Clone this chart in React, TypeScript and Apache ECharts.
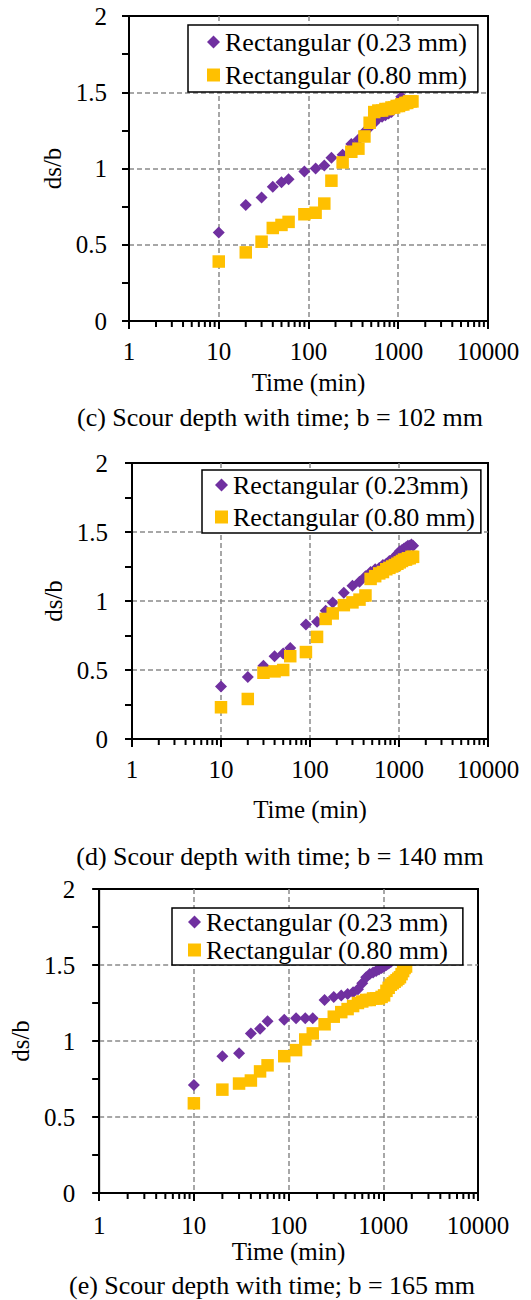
import React, { useEffect, useRef } from "react";
import * as echarts from "echarts";

// ---------- DATA ----------
const TIME = [10, 20, 30, 40, 50, 60, 90, 120, 150, 180, 240, 300, 360, 420, 480, 540, 600, 660, 720, 780, 840, 900, 960, 1020, 1080, 1140, 1200, 1260, 1320, 1380, 1440];
const TIME_E_COARSE = [10, 20, 30, 40, 50, 60, 90, 120, 150, 180, 240, 300, 360, 420, 480, 540, 600, 660, 720, 780, 840, 900, 960, 1020, 1080, 1140, 1200, 1260, 1320, 1380, 1440, 1500, 1560, 1620, 1680, 1740];

// (c) b = 102 mm
const C_FINE = [0.58, 0.76, 0.81, 0.88, 0.91, 0.93, 0.98, 1.0, 1.02, 1.07, 1.09, 1.16, 1.19, 1.24, 1.27, 1.3, 1.33, 1.34, 1.35, 1.36, 1.37, 1.39, 1.41, 1.44, 1.47];
const C_COARSE = [0.39, 0.45, 0.52, 0.61, 0.63, 0.65, 0.7, 0.71, 0.77, 0.92, 1.04, 1.11, 1.13, 1.21, 1.3, 1.37, 1.38, 1.38, 1.39, 1.39, 1.4, 1.4, 1.41, 1.41, 1.42, 1.42, 1.43, 1.43, 1.44, 1.44, 1.44];

// (d) b = 140 mm
const D_FINE = [0.38, 0.45, 0.53, 0.6, 0.62, 0.66, 0.83, 0.85, 0.93, 0.99, 1.06, 1.11, 1.14, 1.18, 1.21, 1.23, 1.24, 1.26, 1.27, 1.29, 1.3, 1.32, 1.34, 1.36, 1.37, 1.38, 1.39, 1.4, 1.4, 1.41, 1.4];
const D_COARSE = [0.23, 0.29, 0.48, 0.49, 0.5, 0.6, 0.63, 0.74, 0.87, 0.91, 0.97, 0.99, 1.01, 1.04, 1.16, 1.18, 1.2, 1.21, 1.23, 1.24, 1.25, 1.26, 1.27, 1.28, 1.29, 1.3, 1.3, 1.31, 1.31, 1.32, 1.32];

// (e) b = 165 mm
const E_FINE = [0.71, 0.9, 0.92, 1.05, 1.08, 1.13, 1.14, 1.15, 1.15, 1.15, 1.27, 1.29, 1.3, 1.31, 1.32, 1.34, 1.38, 1.42, 1.44, 1.45, 1.46, 1.47, 1.48, 1.49, 1.5, 1.51, 1.52];
const E_COARSE = [0.59, 0.68, 0.72, 0.74, 0.8, 0.84, 0.9, 0.94, 1.01, 1.05, 1.11, 1.16, 1.19, 1.21, 1.23, 1.25, 1.26, 1.27, 1.27, 1.28, 1.28, 1.28, 1.29, 1.3, 1.33, 1.35, 1.37, 1.38, 1.39, 1.4, 1.41, 1.42, 1.44, 1.46, 1.48, 1.49];

const LEGEND_NAMES = [
  ["Rectangular (0.23 mm)", "Rectangular (0.80 mm)"],
  ["Rectangular (0.23mm)", "Rectangular (0.80 mm)"],
  ["Rectangular (0.23 mm)", "Rectangular (0.80 mm)"],
];
const CAPTIONS = [
  "(c) Scour depth with time; b = 102 mm",
  "(d) Scour depth with time; b = 140 mm",
  "(e) Scour depth with time; b = 165 mm",
];
const X_MINOR_TICKS = [2, 3, 4, 5, 6, 7, 8, 9, 20, 30, 40, 50, 60, 70, 80, 90, 200, 300, 400, 500, 600, 700, 800, 900, 2000, 3000, 4000, 5000, 6000, 7000, 8000, 9000];
const X_NAME = "Time (min)";
const Y_NAME = "ds/b";

const SERIES_DATA = [
  [[TIME, C_FINE], [TIME, C_COARSE]],
  [[TIME, D_FINE], [TIME, D_COARSE]],
  [[TIME, E_FINE], [TIME_E_COARSE, E_COARSE]],
];

// ---------- STYLE / LAYOUT ----------
const FONT = "Liberation Serif";
const PURPLE = "#7030A0";
const YELLOW = "#FFC000";
const TICK = "#000";
const GRID_LINE = { color: "#8a8a8a", type: [5, 3], width: 1.5 };

const LAYOUT = [
  { grid: { left: 129, top: 16, width: 359, height: 305 }, legend: { left: 188, top: 25, padding: [4, 11, 4, 19], itemGap: 7 }, xMargin: 18, xNameGap: 49, yMargin: 22, yNameGap: 34, cap: [280, 417] },
  { grid: { left: 132, top: 463, width: 356, height: 276 }, legend: { left: 202, top: 470, padding: [2, 6, 3, 13], itemGap: 6 }, xMargin: 18, xNameGap: 58, yMargin: 24, yNameGap: 49, cap: [280, 856] },
  { grid: { left: 87, top: 889, width: 391, height: 304 }, legend: { left: 172, top: 908, padding: [1, 15, 2, 16], itemGap: 2 }, xMargin: 20, xNameGap: 45, yMargin: 24, yNameGap: 50, cap: [272, 1285] },
];

function pairs(xs: number[], ys: number[]) {
  return ys.map((y, i) => [xs[i], y]);
}

function buildOption() {
  const grid: any[] = [];
  const xAxis: any[] = [];
  const yAxis: any[] = [];
  const legend: any[] = [];
  const series: any[] = [];
  const graphic: any[] = [];
  const axisText = { fontFamily: FONT, fontSize: 25, color: "#000" };

  LAYOUT.forEach((L, i) => {
    grid.push({ ...L.grid, show: true, borderColor: "#000", borderWidth: 2, backgroundColor: "transparent", containLabel: false });
    xAxis.push({
      type: "log",
      logBase: 10,
      min: 1,
      max: 10000,
      gridIndex: i,
      name: X_NAME,
      nameLocation: "middle",
      nameGap: L.xNameGap,
      nameTextStyle: axisText,
      axisLine: { show: true, onZero: false, lineStyle: { color: "#000", width: 2 } },
      axisTick: { show: true, length: 8, lineStyle: { color: TICK, width: 2 } },
      axisLabel: { ...axisText, margin: L.xMargin, formatter: (v: number) => String(Math.round(v)) },
      splitLine: { show: true, showMinLine: false, showMaxLine: false, lineStyle: GRID_LINE },
      minorTick: { show: false },
    });
    yAxis.push({
      type: "value",
      min: 0,
      max: 2,
      interval: 0.5,
      gridIndex: i,
      name: Y_NAME,
      nameLocation: "middle",
      nameRotate: 90,
      nameGap: L.yNameGap,
      nameTextStyle: axisText,
      axisLine: { show: true, onZero: false, lineStyle: { color: "#000", width: 2 } },
      axisTick: { show: true, length: 7, lineStyle: { color: TICK, width: 2 } },
      minorTick: { show: true, splitNumber: 2, length: 7, lineStyle: { color: TICK, width: 2 } },
      axisLabel: { ...axisText, margin: L.yMargin },
      splitLine: { show: true, showMinLine: false, showMaxLine: false, lineStyle: GRID_LINE },
    });
    const [n0, n1] = LEGEND_NAMES[i];
    legend.push({
      orient: "vertical",
      left: L.legend.left,
      top: L.legend.top,
      padding: L.legend.padding,
      itemGap: L.legend.itemGap,
      itemWidth: 13,
      itemHeight: 13,
      backgroundColor: "#fff",
      borderColor: "#000",
      borderWidth: 1.5,
      borderRadius: 0,
      selectedMode: false,
      textStyle: { fontFamily: FONT, fontSize: 26, color: "#000", lineHeight: 26 },
      data: [
        { name: n0, icon: "diamond", itemStyle: { color: PURPLE, opacity: 1 } },
        { name: n1, icon: "rect", itemStyle: { color: YELLOW, opacity: 1 } },
      ],
    });
    const [[tx0, v0], [tx1, v1]] = SERIES_DATA[i];
    series.push({
      type: "scatter",
      name: n0,
      xAxisIndex: i,
      yAxisIndex: i,
      symbol: "diamond",
      symbolSize: 12,
      itemStyle: { color: PURPLE, opacity: 1 },
      data: pairs(tx0, v0),
      z: 2,
    });
    series.push({
      type: "scatter",
      name: n1,
      xAxisIndex: i,
      yAxisIndex: i,
      symbol: "rect",
      symbolSize: 12.5,
      itemStyle: { color: YELLOW, opacity: 1 },
      data: pairs(tx1, v1),
      z: 2,
    });
    series.push({
      type: "custom",
      xAxisIndex: i,
      yAxisIndex: i,
      silent: true,
      clip: false,
      z: 3,
      data: X_MINOR_TICKS.map((v) => [v, 0]),
      encode: { x: 0, y: 1 },
      renderItem: (params: any, api: any) => {
        const p = api.coord([api.value(0), 0]);
        return {
          type: "line",
          shape: { x1: p[0], y1: p[1], x2: p[0], y2: p[1] + 6 },
          style: { stroke: TICK, lineWidth: 2 },
        };
      },
    });
    graphic.push({
      type: "text",
      x: L.cap[0],
      y: L.cap[1],
      style: { text: CAPTIONS[i], fontFamily: FONT, fontSize: 26, fill: "#000", align: "center", verticalAlign: "middle" },
    });
  });

  return { animation: false, backgroundColor: "#fff", grid, xAxis, yAxis, legend, series, graphic };
}

export default function App() {
  const ref = useRef<HTMLDivElement>(null);
  useEffect(() => {
    if (!ref.current) return;
    const chart = echarts.init(ref.current, undefined, { renderer: "svg" });
    chart.setOption(buildOption() as any);
    return () => chart.dispose();
  }, []);
  return <div ref={ref} style={{ position: "absolute", left: 0, top: 0, width: 531, height: 1300 }} />;
}
